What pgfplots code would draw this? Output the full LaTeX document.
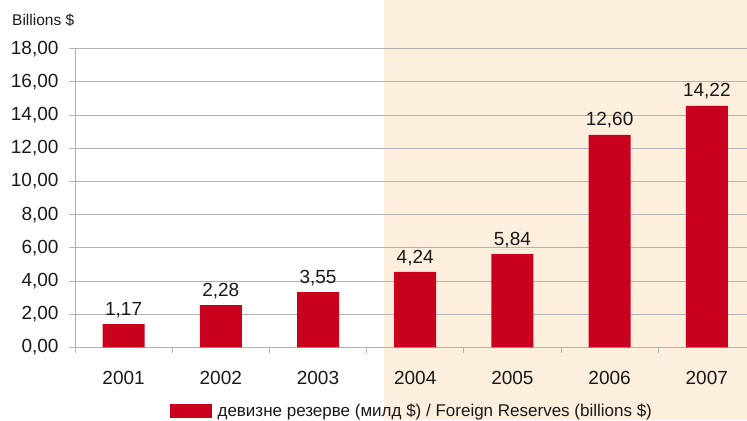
\documentclass[border=0pt]{standalone}
\usepackage{fontspec}
\setmainfont{Liberation Sans}
\usepackage{pgfplots}
\pgfplotsset{compat=1.18}
\usepackage{pgfplotstable}
\definecolor{barred}{RGB}{200,0,30}
\definecolor{peach}{RGB}{253,239,222}
\definecolor{gridgray}{RGB}{178,178,178}
\definecolor{txt}{RGB}{25,25,25}

\pgfplotstableread{
x y lab
0 1.40 {1,17}
1 2.55 {2,28}
2 3.33 {3,55}
3 4.54 {4,24}
4 5.62 {5,84}
5 12.81 {12,60}
6 14.55 {14,22}
}\reserves

\begin{document}
\begin{tikzpicture}[x=1bp,y=1bp]
\useasboundingbox (0,0) rectangle (747,420);
\fill[peach] (384,0) rectangle (747,420);
\node[anchor=west, font=\fontsize{15.5bp}{17bp}\selectfont, text=txt, inner sep=0pt] at (12,400) {Billions \$};
\begin{axis}[
  at={(75bp,72.7bp)}, anchor=south west, scale only axis,
  width=680.4bp, height=298.6bp,
  xmin=-0.5, xmax=6.5, ymin=0, ymax=18,
  axis x line*=bottom, axis y line*=left,
  axis line style={gridgray, line width=0.8bp},
  axis background/.style={fill=none},
  ytick={0,2,...,18},
  ymajorgrids, grid style={gridgray, line width=0.8bp},
  scaled y ticks=false,
  /pgf/number format/assume math mode=true,
  yticklabel style={/pgf/number format/fixed, /pgf/number format/fixed zerofill,
    /pgf/number format/precision=2, /pgf/number format/use comma,
    font=\fontsize{19bp}{21bp}\selectfont, text=txt, xshift=-7bp},
  xtick={0,1,2,3,4,5,6},
  xticklabels={2001,2002,2003,2004,2005,2006,2007},
  xticklabel style={font=\fontsize{19bp}{21bp}\selectfont, text=txt, yshift=-14bp},
  minor xtick={-0.5,0.5,1.5,2.5,3.5,4.5,5.5,6.5},
  major x tick style={draw=none},
  tick align=outside,
  major tick length=6bp, minor tick length=6bp,
  tick style={gridgray, line width=0.8bp},
  legend style={at={(axis description cs:0.495,-0.213)}, anchor=center,
    draw=none, fill=none, inner sep=0pt,
    font=\fontsize{17bp}{19bp}\selectfont, text=txt,
    /tikz/every odd column/.style={column sep=4bp}},
  clip=false,
]
\addplot[ybar, bar width=42bp, fill=barred, draw=none,
  nodes near coords, point meta=explicit symbolic,
  every node near coord/.append style={font=\fontsize{19bp}{21bp}\selectfont, text=txt, anchor=south, yshift=3bp},
  legend image code/.code={\fill[barred] (0bp,-7bp) rectangle (42bp,7bp);}]
  table[x=x, y=y, meta=lab] {\reserves};
\addlegendentry{девизне резерве (милд \$) / Foreign Reserves (billions \$)}
\end{axis}
\end{tikzpicture}
\end{document}
